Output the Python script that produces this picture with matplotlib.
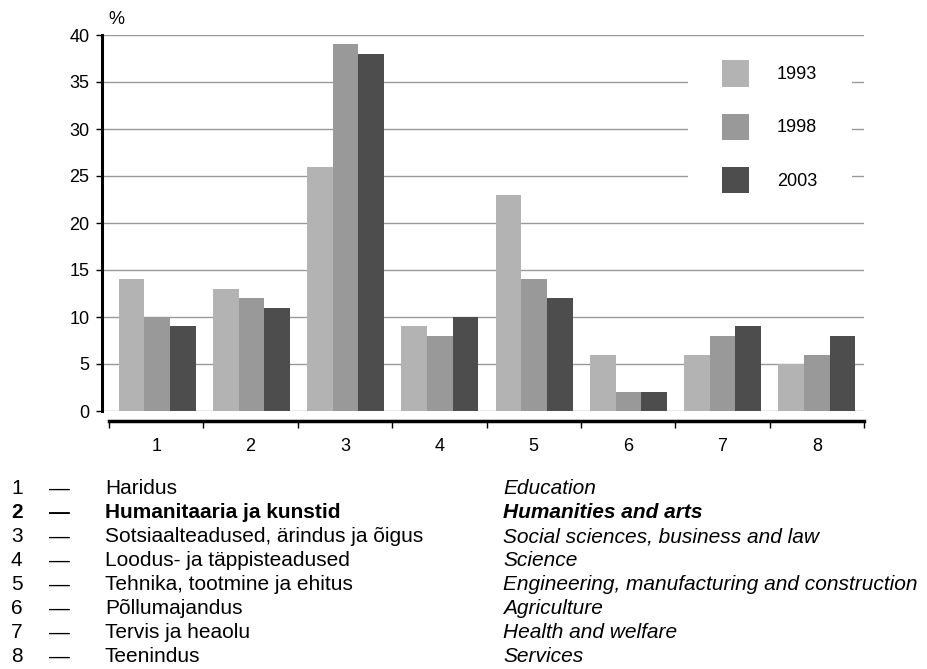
import matplotlib.pyplot as plt
from matplotlib.patches import Rectangle
import numpy as np

plt.rcParams['font.family'] = ['Liberation Sans', 'DejaVu Sans']

# andmed
categories = ['1', '2', '3', '4', '5', '6', '7', '8']
years = ['1993', '1998', '2003']
v1993 = [14, 13, 26, 9, 23, 6, 6, 5]
v1998 = [10, 12, 39, 8, 14, 2, 8, 6]
v2003 = [9, 11, 38, 10, 12, 2, 9, 8]
colors = ['#b3b3b3', '#999999', '#4d4d4d']

names_et = ['Haridus', 'Humanitaaria ja kunstid', 'Sotsiaalteadused, ärindus ja õigus',
            'Loodus- ja täppisteadused', 'Tehnika, tootmine ja ehitus', 'Põllumajandus',
            'Tervis ja heaolu', 'Teenindus']
names_en = ['Education', 'Humanities and arts', 'Social sciences, business and law',
            'Science', 'Engineering, manufacturing and construction', 'Agriculture',
            'Health and welfare', 'Services']

W, H = 928, 669
fs = 13
fig = plt.figure(figsize=(W / 100, H / 100), dpi=100)
ax = fig.add_axes([102 / W, 1 - 411 / H, (864 - 102) / W, (411 - 35) / H])

x = np.arange(len(categories))
bw = 0.273
for i, (vals, c, y) in enumerate(zip([v1993, v1998, v2003], colors, years)):
    ax.bar(x + (i - 1) * bw, vals, width=bw, color=c, label=y, zorder=3)

ax.set_xlim(-0.5 - 8 / 94.3, 7.5)
ax.set_ylim(0, 40)
ax.set_yticks(range(0, 41, 5))
ax.yaxis.grid(True, color='#999999', linewidth=1)
ax.set_axisbelow(True)
for s in ['top', 'right', 'bottom']:
    ax.spines[s].set_visible(False)
ax.spines['left'].set_linewidth(2.2)
ax.tick_params(axis='y', length=4, width=1, labelsize=fs, pad=5)
ax.set_xticks([])
fig.text(108 / W, 1 - 20 / H, '%', fontsize=fs, va='center', ha='left')

# valge taust legendi all (katab ruudujooned)
ax.add_patch(Rectangle(((688 - 102) / 762, (411 - 210) / 376), (852 - 688) / 762,
                       (210 - 45) / 376, transform=ax.transAxes,
                       facecolor='white', edgecolor='none', zorder=2))
ax.legend(loc='upper left', bbox_to_anchor=((722 - 102) / 762, (411 - 60.5) / 376),
          frameon=False, fontsize=fs, handlelength=1.5, handleheight=1.84,
          labelspacing=1.5, handletextpad=1.55, borderpad=0, borderaxespad=0)

# teine x-telg kategooriatega
ax2 = fig.add_axes([109 / W, 1 - 421 / H, (864 - 109) / W, 0.0001])
ax2.set_xlim(-0.5, 7.5)
for s in ['top', 'right', 'left']:
    ax2.spines[s].set_visible(False)
ax2.spines['bottom'].set_linewidth(2.5)
ax2.set_yticks([])
ax2.set_xticks(x)
ax2.set_xticklabels(categories)
ax2.set_xticks(np.arange(-0.5, 8, 1), minor=True)
ax2.tick_params(axis='x', which='major', length=0, labelsize=fs, pad=12)
ax2.tick_params(axis='x', which='minor', length=5, width=1, direction='out')
ax2.patch.set_visible(False)

# selgitused
fs2 = 15
y0 = 489
dy = 24
for i in range(len(categories)):
    yy = 1 - (y0 + i * dy) / H
    bold = 'bold' if i == 1 else 'normal'
    fig.text(11 / W, yy, categories[i], fontsize=fs2, weight=bold, va='center')
    fig.text(49 / W, yy, '—', fontsize=fs2, weight=bold, va='center')
    fig.text(105 / W, yy, names_et[i], fontsize=fs2, weight=bold, va='center')
    fig.text(503 / W, yy, names_en[i], fontsize=fs2, weight=bold,
             style='italic', va='center')

fig.savefig('out.png', dpi=100)
